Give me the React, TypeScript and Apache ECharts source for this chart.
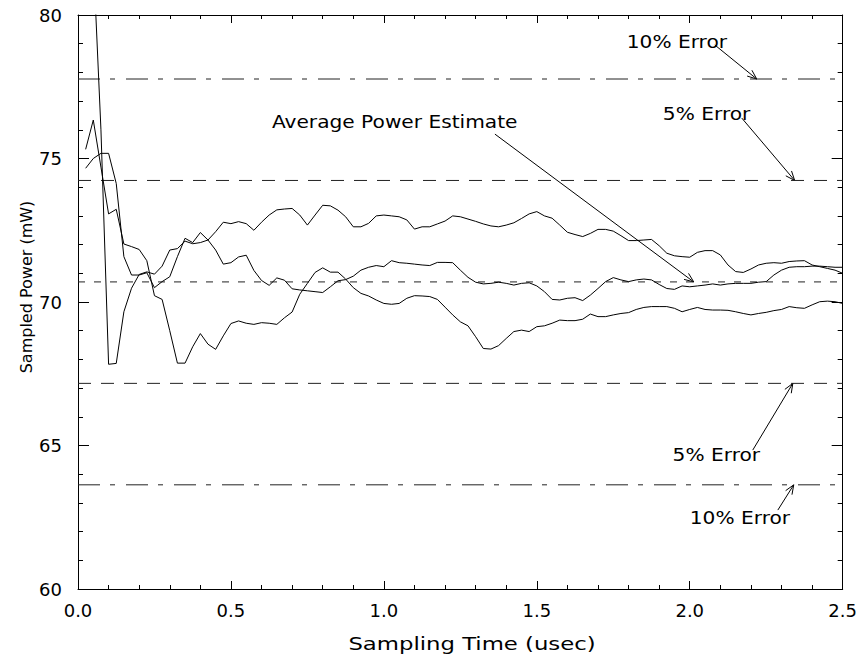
import React, { useEffect, useRef } from 'react';
import * as echarts from 'echarts';

// Sampling times (usec)
const TIME = [
  0.025, 0.05, 0.075, 0.1, 0.125, 0.15, 0.175, 0.2, 0.225, 0.25,
  0.275, 0.3, 0.325, 0.35, 0.375, 0.4, 0.425, 0.45, 0.475, 0.5,
  0.525, 0.55, 0.575, 0.6, 0.625, 0.65, 0.675, 0.7, 0.725, 0.75,
  0.775, 0.8, 0.825, 0.85, 0.875, 0.9, 0.925, 0.95, 0.975, 1.0,
  1.025, 1.05, 1.075, 1.1, 1.125, 1.15, 1.175, 1.2, 1.225, 1.25,
  1.275, 1.3, 1.325, 1.35, 1.375, 1.4, 1.425, 1.45, 1.475, 1.5,
  1.525, 1.55, 1.575, 1.6, 1.625, 1.65, 1.675, 1.7, 1.725, 1.75,
  1.775, 1.8, 1.825, 1.85, 1.875, 1.9, 1.925, 1.95, 1.975, 2.0,
  2.025, 2.05, 2.075, 2.1, 2.125, 2.15, 2.175, 2.2, 2.225, 2.25,
  2.275, 2.3, 2.325, 2.35, 2.375, 2.4, 2.425, 2.45, 2.475, 2.5,
];

// Sampled power estimates (mW), three runs
const POWER_RUN1 = [
  88, 82, 76.0, 67.83, 67.86, 69.66, 70.48, 70.96, 71.05, 70.97,
  71.25, 71.81, 71.86, 72.12, 72.03, 72.07, 72.16, 72.45, 72.78, 72.73,
  72.8, 72.73, 72.5, 72.78, 73.03, 73.21, 73.24, 73.26, 73.03, 72.68,
  73.03, 73.37, 73.35, 73.2, 72.97, 72.62, 72.62, 72.74, 73.0, 73.03,
  73.0, 72.97, 72.86, 72.54, 72.62, 72.62, 72.72, 72.82, 73.0, 72.97,
  72.89, 72.81, 72.72, 72.65, 72.62, 72.68, 72.76, 72.91, 73.07, 73.15,
  73.0, 72.92, 72.68, 72.43, 72.35, 72.28, 72.39, 72.53, 72.53, 72.47,
  72.31, 72.14, 72.14, 72.16, 72.18, 71.96, 71.7, 71.61, 71.58, 71.56,
  71.73, 71.79, 71.79, 71.64, 71.29, 71.06, 71.03, 71.15, 71.29, 71.35,
  71.37, 71.35, 71.41, 71.43, 71.44, 71.29, 71.23, 71.17, 71.11, 71.0,
];

const POWER_RUN2 = [
  74.66, 75.0, 75.18, 75.18, 74.13, 71.58, 70.94, 70.94, 71.02, 70.5,
  70.71, 70.88, 71.58, 72.22, 72.07, 72.42, 72.16, 71.81, 71.32, 71.37,
  71.57, 71.63, 71.1, 70.75, 70.58, 70.84, 70.76, 70.46, 70.42, 70.39,
  70.36, 70.33, 70.53, 70.74, 70.78, 70.9, 71.11, 71.21, 71.27, 71.23,
  71.44, 71.37, 71.35, 71.32, 71.29, 71.27, 71.38, 71.38, 71.37, 71.11,
  70.86, 70.69, 70.63, 70.65, 70.69, 70.65, 70.59, 70.65, 70.67, 70.56,
  70.36, 70.09, 70.07, 70.13, 70.15, 70.05, 70.24, 70.47, 70.71, 70.85,
  70.77, 70.71, 70.77, 70.8, 70.77, 70.61, 70.47, 70.44, 70.56, 70.53,
  70.56, 70.59, 70.63, 70.59, 70.63, 70.65, 70.65, 70.65, 70.69, 70.71,
  70.94, 71.11, 71.21, 71.23, 71.23, 71.25, 71.25, 71.23, 71.21, 71.21,
];

const POWER_RUN3 = [
  75.32, 76.34, 74.7, 73.07, 73.23, 72.02, 71.93, 71.83, 71.44, 70.22,
  70.09, 69.0, 67.87, 67.87, 68.44, 68.9, 68.53, 68.35, 68.82, 69.25,
  69.34, 69.26, 69.22, 69.28, 69.26, 69.22, 69.45, 69.65, 70.27, 70.65,
  71.03, 71.19, 71.04, 71.04, 70.8, 70.5, 70.3, 70.21, 70.07, 69.95,
  69.92, 69.95, 70.13, 70.22, 70.21, 70.19, 70.09, 69.82, 69.55, 69.31,
  69.17, 68.79, 68.38, 68.36, 68.48, 68.73, 68.97, 69.02, 68.97, 69.14,
  69.17, 69.26, 69.37, 69.35, 69.35, 69.4, 69.58, 69.49, 69.49, 69.55,
  69.6, 69.63, 69.74, 69.81, 69.84, 69.84, 69.84, 69.78, 69.66, 69.74,
  69.81, 69.74, 69.72, 69.72, 69.71, 69.66, 69.6, 69.55, 69.6, 69.64,
  69.7, 69.74, 69.84, 69.8, 69.78, 69.9, 70.01, 70.03, 70.01, 69.95,
];

// Reference levels: +10%, +5%, average, -5%, -10%
const LEVEL_VALUES = [77.77, 74.235, 70.7, 67.165, 63.63];
const LEVEL_KINDS = ['dashdot', 'dash', 'mean', 'dash', 'dashdot'];

// Annotations (data coordinates)
const ANNOT_TEXTS = ['10% Error', '5% Error', 'Average Power Estimate', '5% Error', '10% Error'];
const ANNOT_TEXT_AT = [[1.794, 79.08], [1.912, 76.55], [0.634, 76.29], [1.944, 64.67], [2.0, 62.47]];
const ARROW_FROM = [[2.082, 78.955], [2.17, 76.41], [1.363, 75.85], [2.206, 64.84], [2.288, 62.75]];
const ARROW_TO = [[2.219, 77.77], [2.343, 74.235], [2.013, 70.7], [2.337, 67.165], [2.34, 63.63]];

const X_MIN = 0, X_MAX = 2.5, X_STEP = 0.5;
const Y_MIN = 60, Y_MAX = 80, Y_STEP = 5;

const DASHES: Record<string, number[]> = {
  dashdot: [22, 10, 5, 11],
  dash: [13, 10],
  mean: [7, 9],
};

const FONT = '"DejaVu Sans", "Liberation Sans", sans-serif';

export default function App() {
  const ref = useRef<HTMLDivElement>(null);
  useEffect(() => {
    document.body.style.margin = '0';
    if (!ref.current) return;
    const chart = echarts.init(ref.current, undefined, { renderer: 'svg' });

    const axisCommon = {
      type: 'value' as const,
      axisLine: { show: true, onZero: false, lineStyle: { color: '#000', width: 1 } },
      splitLine: { show: false },
      minorSplitLine: { show: false },
    };

    const xAxisBase = {
      ...axisCommon,
      min: X_MIN,
      max: X_MAX,
      interval: X_STEP,
      axisTick: { show: true, inside: true, length: 8, lineStyle: { color: '#000', width: 1 } },
      minorTick: { show: true, splitNumber: 5, length: 4, lineStyle: { color: '#000', width: 1 } },
    };
    const yAxisBase = {
      ...axisCommon,
      min: Y_MIN,
      max: Y_MAX,
      interval: Y_STEP,
      axisTick: { show: true, inside: true, length: 11, lineStyle: { color: '#000', width: 1 } },
      minorTick: { show: true, splitNumber: 5, length: 5, lineStyle: { color: '#000', width: 1 } },
    };

    const runs = [POWER_RUN1, POWER_RUN2, POWER_RUN3];
    const series: any[] = runs.map((run, k) => ({
      type: 'line',
      name: 'run' + (k + 1),
      data: TIME.map((t, i) => [t, run[i]]),
      showSymbol: false,
      symbol: 'none',
      clip: true,
      lineStyle: { color: '#000', width: 1 },
      silent: true,
      z: 3,
    }));
    LEVEL_VALUES.forEach((lv, k) => {
      series.push({
        type: 'line',
        name: 'level' + k,
        data: [[X_MIN, lv], [X_MAX, lv]],
        showSymbol: false,
        symbol: 'none',
        lineStyle: { color: '#222', width: 1, type: DASHES[LEVEL_KINDS[k]] },
        silent: true,
        z: 2,
      });
    });

    chart.setOption({
      animation: false,
      backgroundColor: '#fff',
      grid: { left: 78, right: 17, top: 15, bottom: 69, containLabel: false },
      xAxis: [
        {
          ...xAxisBase,
          position: 'bottom',
          axisLabel: {
            show: true,
            margin: 12,
            fontSize: 18,
            fontFamily: FONT,
            color: '#000',
            formatter: (v: number) => v.toFixed(1),
          },
        },
        { ...xAxisBase, position: 'top', axisLabel: { show: false } },
      ],
      yAxis: [
        {
          ...yAxisBase,
          position: 'left',
          axisLabel: { show: true, margin: 16, fontSize: 18, fontFamily: FONT, color: '#000' },
        },
        { ...yAxisBase, position: 'right', axisLabel: { show: false } },
      ],
      series,
    });

    const px = (p: number[]) => chart.convertToPixel({ gridIndex: 0 }, p) as number[];
    const graphics: any[] = [];
    ANNOT_TEXTS.forEach((txt, k) => {
      const at = px(ANNOT_TEXT_AT[k]);
      graphics.push({
        type: 'text',
        x: at[0],
        y: at[1],
        scaleX: 1.12,
        silent: true,
        style: { text: txt, fill: '#000', font: '18px ' + FONT, align: 'left', verticalAlign: 'middle' },
      });
      const a = px(ARROW_FROM[k]);
      const b = px(ARROW_TO[k]);
      graphics.push({
        type: 'line',
        silent: true,
        shape: { x1: a[0], y1: a[1], x2: b[0], y2: b[1] },
        style: { stroke: '#000', lineWidth: 1 },
      });
      const dx = b[0] - a[0], dy = b[1] - a[1];
      const len = Math.sqrt(dx * dx + dy * dy);
      const ux = dx / len, uy = dy / len;
      const L = 10, th = (22 * Math.PI) / 180;
      const c = Math.cos(th), s = Math.sin(th);
      const l1 = [b[0] - L * (ux * c - uy * s), b[1] - L * (uy * c + ux * s)];
      const l2 = [b[0] - L * (ux * c + uy * s), b[1] - L * (uy * c - ux * s)];
      graphics.push({
        type: 'polyline',
        silent: true,
        shape: { points: [l1, [b[0], b[1]], l2] },
        style: { stroke: '#000', lineWidth: 1, fill: 'none' },
      });
    });
    // axis titles
    graphics.push({
      type: 'text',
      x: 472,
      y: 644,
      scaleX: 1.34,
      silent: true,
      style: { text: 'Sampling Time (usec)', fill: '#000', font: '17px ' + FONT, align: 'center', verticalAlign: 'middle' },
    });
    graphics.push({
      type: 'text',
      x: 26,
      y: 287,
      rotation: Math.PI / 2,
      silent: true,
      style: { text: 'Sampled Power (mW)', fill: '#000', font: '16px ' + FONT, align: 'center', verticalAlign: 'middle' },
    });
    chart.setOption({ graphic: graphics });

    return () => chart.dispose();
  }, []);
  return <div ref={ref} style={{ width: 860, height: 658 }} />;
}
